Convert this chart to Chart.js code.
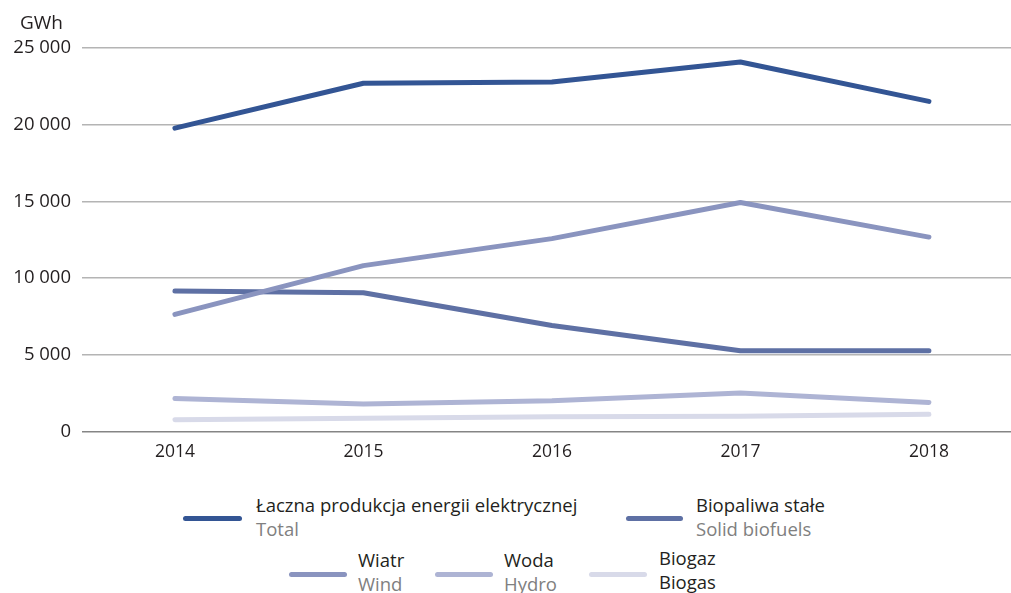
<!DOCTYPE html>
<html><head><meta charset="utf-8">
<script src="https://cdn.jsdelivr.net/npm/chart.js@4.4.1/dist/chart.umd.min.js"></script>
<style>
html,body{margin:0;padding:0;background:#fff;width:1011px;height:593px;overflow:hidden;font-family:"Open Sans",sans-serif;}
#wrap{position:absolute;left:0;top:0;width:1011px;height:470px;}
.unit{position:absolute;left:20px;top:10px;font-size:19px;color:#231f20;line-height:24px;}
.sw{position:absolute;height:5px;border-radius:3px;}
.tx{position:absolute;font-size:18.5px;line-height:24px;white-space:nowrap;color:#231f20;}
.tx .en{color:#808080;}
</style></head>
<body>
<div id="wrap"><canvas id="c" width="1011" height="470"></canvas></div>
<div class="unit">GWh</div>
<div id="legend"></div>
<script>
const years = [2014, 2015, 2016, 2017, 2018];
const yTicks = [0, 5000, 10000, 15000, 20000, 25000];
const total  = [19780, 22700, 22780, 24090, 21520];
const solid  = [9160, 9050, 6920, 5270, 5270];
const wind   = [7640, 10820, 12580, 14930, 12680];
const hydro  = [2170, 1810, 2020, 2520, 1910];
const biogas = [780, 870, 980, 1000, 1130];
const namesPL = ['Łaczna produkcja energii elektrycznej', 'Biopaliwa stałe', 'Wiatr', 'Woda', 'Biogaz'];
const namesEN = ['Total', 'Solid biofuels', 'Wind', 'Hydro', 'Biogas'];
const colors = ['#335594', '#5e70a4', '#8a94bf', '#aeb4d4', '#d8dae9'];
const seriesData = [total, solid, wind, hydro, biogas];
const drawOrder = [1, 3, 2, 4, 5];
const legendPos = [
  {sx:183, sw:59, sy:516, tx:256, ty:493, enDark:false},
  {sx:626, sw:57, sy:516, tx:696, ty:493, enDark:false},
  {sx:289, sw:58, sy:572, tx:358, ty:548, enDark:false},
  {sx:435, sw:58, sy:572, tx:504, ty:548, enDark:false},
  {sx:589, sw:58, sy:572, tx:659, ty:546, enDark:true}
];

const fmt = v => String(v).replace(/\B(?=(\d{3})+(?!\d))/g, ' ');

const datasets = seriesData.map((arr, i) => ({
  label: namesPL[i],
  data: years.map((y, j) => ({x: y, y: arr[j]})),
  borderColor: colors[i],
  backgroundColor: colors[i],
  borderWidth: 5,
  borderCapStyle: 'round',
  borderJoinStyle: 'round',
  pointRadius: 0,
  tension: 0,
  order: drawOrder[i]
}));

new Chart(document.getElementById('c'), {
  type: 'line',
  data: {datasets},
  options: {
    responsive: false,
    animation: false,
    devicePixelRatio: 1,
    layout: {padding: {top: 48, right: 0, bottom: 0, left: 0}, autoPadding: false},
    plugins: {legend: {display: false}, tooltip: {enabled: false}},
    scales: {
      x: {
        type: 'linear',
        min: 2013.507, max: 2018.4355,
        afterBuildTicks: s => { s.ticks = years.map(v => ({value: v})); },
        afterFit: s => { s.height = 38.3; },
        grid: {display: false, drawTicks: false},
        border: {display: false},
        ticks: {padding: 10, color: '#231f20', font: {family: '"Open Sans"', size: 17.5}, callback: v => String(v), maxRotation: 0, autoSkip: false}
      },
      y: {
        min: 0, max: 25000,
        afterBuildTicks: s => { s.ticks = yTicks.map(v => ({value: v})); },
        afterFit: s => { s.width = 82; },
        grid: {drawTicks: false, lineWidth: 1.5, color: c => (c.tick && c.tick.value === 0) ? '#858585' : '#b4b4b4'},
        border: {display: false},
        ticks: {padding: 11, color: '#231f20', font: {family: '"Open Sans"', size: 18.5}, callback: v => fmt(v)}
      }
    }
  }
});

const lg = document.getElementById('legend');
legendPos.forEach((p, i) => {
  const sw = document.createElement('div');
  sw.className = 'sw';
  sw.style.left = p.sx + 'px'; sw.style.top = p.sy + 'px'; sw.style.width = p.sw + 'px';
  sw.style.background = colors[i];
  lg.appendChild(sw);
  const t = document.createElement('div');
  t.className = 'tx';
  t.style.left = p.tx + 'px'; t.style.top = p.ty + 'px';
  t.innerHTML = namesPL[i] + '<br><span class="' + (p.enDark ? '' : 'en') + '">' + namesEN[i] + '</span>';
  lg.appendChild(t);
});
</script>
</body></html>
